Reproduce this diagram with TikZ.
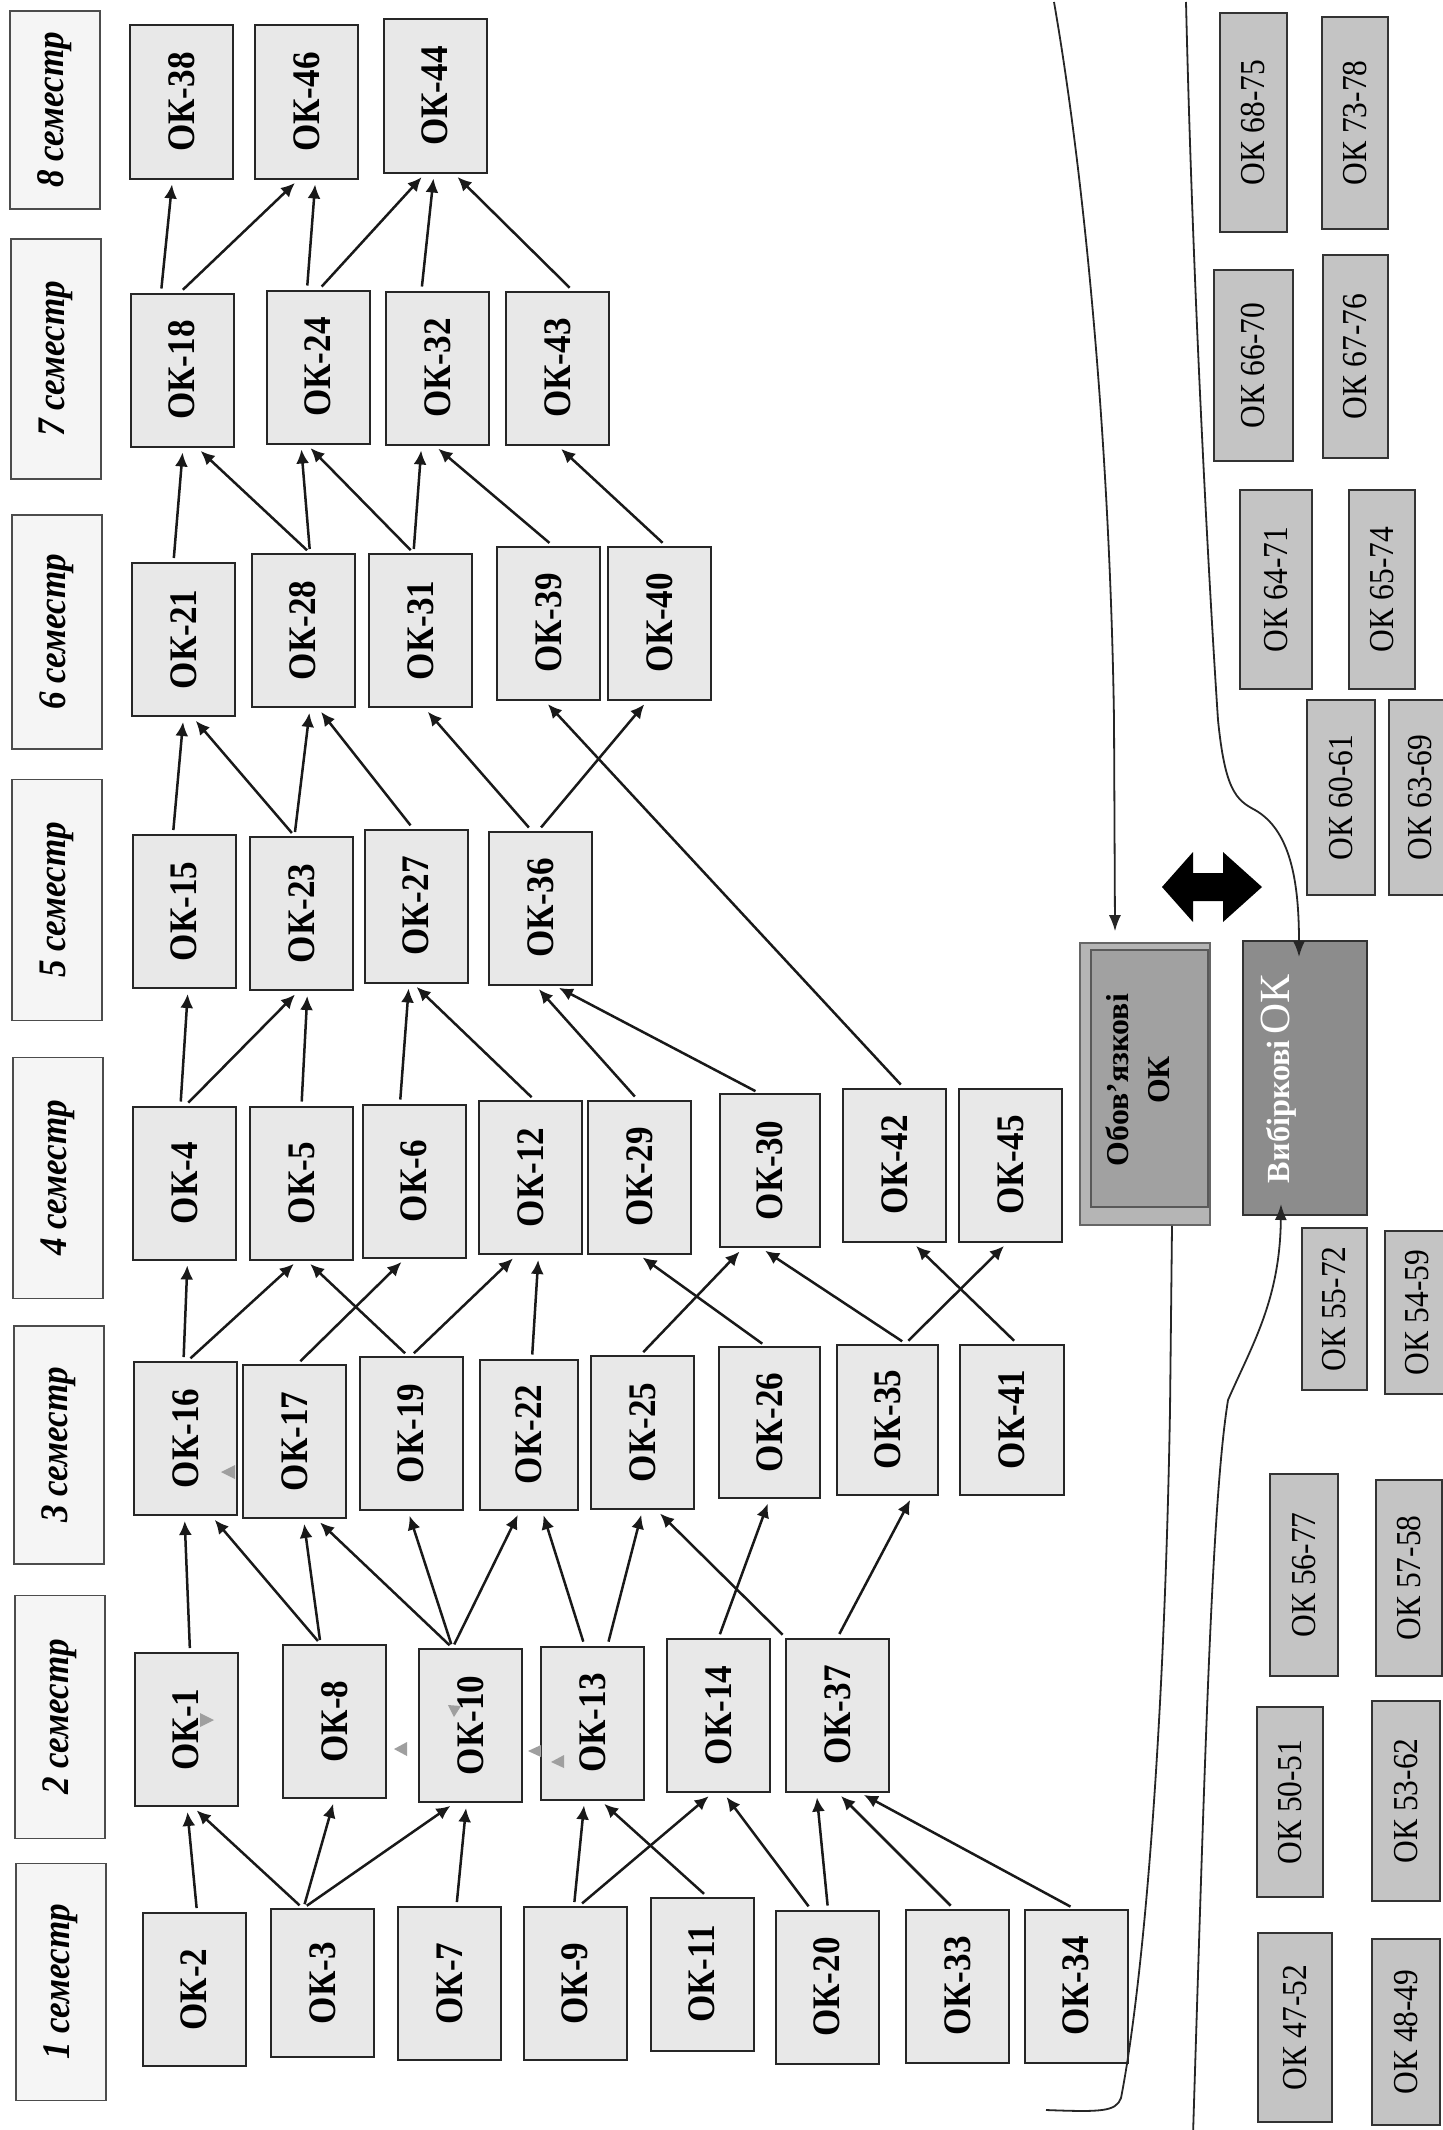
\documentclass[tikz,border=0pt]{standalone}
\usepackage{fontspec}
\setmainfont{Liberation Serif}
\usepackage{graphicx}
\usetikzlibrary{calc,arrows.meta}
\definecolor{boxfill}{gray}{0.91}
\definecolor{semfill}{gray}{0.96}
\definecolor{elfill}{gray}{0.77}
\definecolor{oboutfill}{gray}{0.71}
\definecolor{obinfill}{gray}{0.63}
\definecolor{vybfill}{gray}{0.55}
\newcommand\oklab[1]{\rotatebox{90}{\scalebox{0.9}[1]{\fontsize{19.5}{22}\selectfont\bfseries #1}}}
\newcommand\semlab[1]{\rotatebox{90}{\scalebox{0.9}[1]{\fontsize{19.5}{22}\selectfont\bfseries\itshape #1}}}
\newcommand\ellab[1]{\rotatebox{90}{\scalebox{0.9}[1]{\fontsize{17.5}{20}\selectfont #1}}}
\newcommand\okcon[4]{\draw[conn] ($(#1.north)+(#2,0)$) -- ($(#3.south)+(#4,0)$);}
\tikzset{
  sz/.style 2 args={minimum width=#1*0.5pt, minimum height=#2*0.5pt},
  okb/.style={draw=black!85, line width=1pt, fill=boxfill, inner sep=0pt, sz={103}{153}},
  sem/.style={draw=black!70, line width=0.8pt, fill=semfill, inner sep=0pt},
  elb/.style={draw=black!80, line width=0.8pt, fill=elfill, inner sep=0pt},
  conn/.style={line width=1.25pt, draw=black!90, -{Latex[length=7pt,width=6.5pt]}, shorten <=2pt, shorten >=2.5pt},
  curv/.style={line width=0.9pt, draw=black!85},
  art/.style={fill=gray!75},
}
\begin{document}
\begin{tikzpicture}[x=0.5pt,y=-0.5pt]
\fill[white] (0,0) rectangle (1443,2130);
\useasboundingbox (0,0) rectangle (1443,2130);

% semester labels
\node[sem, sz={90}{198}] (s8) at (55,110) {\semlab{8 семестр}};
\node[sem, sz={90}{240}] (s7) at (56,359) {\semlab{7 семестр}};
\node[sem, sz={90}{234}] (s6) at (57,632) {\semlab{6 семестр}};
\node[sem, sz={90}{241}] (s5) at (57,900) {\semlab{5 семестр}};
\node[sem, sz={90}{241}] (s4) at (58,1178) {\semlab{4 семестр}};
\node[sem, sz={90}{238}] (s3) at (59,1445) {\semlab{3 семестр}};
\node[sem, sz={90}{243}] (s2) at (60,1717) {\semlab{2 семестр}};
\node[sem, sz={90}{237}] (s1) at (61,1982) {\semlab{1 семестр}};

% semester 8
\node[okb] (ok38) at (181.5,102) {\oklab{ОК-38}};
\node[okb] (ok46) at (306.5,102) {\oklab{ОК-46}};
\node[okb] (ok44) at (435,96) {\oklab{ОК-44}};
% semester 7
\node[okb] (ok18) at (182,370) {\oklab{ОК-18}};
\node[okb] (ok24) at (318,367) {\oklab{ОК-24}};
\node[okb] (ok32) at (437.5,368) {\oklab{ОК-32}};
\node[okb] (ok43) at (557.5,368) {\oklab{ОК-43}};
% semester 6
\node[okb] (ok21) at (183.5,639.5) {\oklab{ОК-21}};
\node[okb] (ok28) at (303,630.5) {\oklab{ОК-28}};
\node[okb] (ok31) at (420.5,630.5) {\oklab{ОК-31}};
\node[okb] (ok39) at (548.5,623) {\oklab{ОК-39}};
\node[okb] (ok40) at (659.5,623) {\oklab{ОК-40}};
% semester 5
\node[okb] (ok15) at (184,911.5) {\oklab{ОК-15}};
\node[okb] (ok23) at (301.5,913.5) {\oklab{ОК-23}};
\node[okb] (ok27) at (416,906) {\oklab{ОК-27}};
\node[okb] (ok36) at (540.5,908) {\oklab{ОК-36}};
% semester 4
\node[okb] (ok4) at (184.5,1183) {\oklab{ОК-4}};
\node[okb] (ok5) at (301.5,1183) {\oklab{ОК-5}};
\node[okb] (ok6) at (414,1181) {\oklab{ОК-6}};
\node[okb] (ok12) at (530.5,1177.5) {\oklab{ОК-12}};
\node[okb] (ok29) at (639.5,1177) {\oklab{ОК-29}};
\node[okb, sz={100}{153}] (ok30) at (770,1170.5) {\oklab{ОК-30}};
\node[okb] (ok42) at (894.5,1165) {\oklab{ОК-42}};
\node[okb] (ok45) at (1010.5,1165) {\oklab{ОК-45}};
% semester 3
\node[okb] (ok16) at (185.5,1438.5) {\oklab{ОК-16}};
\node[okb] (ok17) at (294.5,1441.5) {\oklab{ОК-17}};
\node[okb] (ok19) at (411,1433.5) {\oklab{ОК-19}};
\node[okb, sz={98}{150}] (ok22) at (529,1434.5) {\oklab{ОК-22}};
\node[okb] (ok25) at (642.5,1432.5) {\oklab{ОК-25}};
\node[okb, sz={101}{151}] (ok26) at (769.5,1422.5) {\oklab{ОК-26}};
\node[okb, sz={101}{150}] (ok35) at (887.5,1419.5) {\oklab{ОК-35}};
\node[okb, sz={104}{150}] (ok41) at (1012,1419.5) {\oklab{ОК-41}};
% semester 2
\node[okb] (ok1) at (186,1729.5) {\oklab{ОК-1}};
\node[okb] (ok8) at (334.5,1721.5) {\oklab{ОК-8}};
\node[okb] (ok10) at (470.5,1725.5) {\oklab{ОК-10}};
\node[okb] (ok13) at (592.5,1723) {\oklab{ОК-13}};
\node[okb] (ok14) at (718.5,1715.5) {\oklab{ОК-14}};
\node[okb] (ok37) at (837.5,1715) {\oklab{ОК-37}};
% semester 1
\node[okb] (ok2) at (194,1989.5) {\oklab{ОК-2}};
\node[okb, sz={103}{148}] (ok3) at (322.5,1983) {\oklab{ОК-3}};
\node[okb] (ok7) at (449.5,1983.5) {\oklab{ОК-7}};
\node[okb] (ok9) at (575,1983.5) {\oklab{ОК-9}};
\node[okb] (ok11) at (702,1974) {\oklab{ОК-11}};
\node[okb] (ok20) at (827,1987) {\oklab{ОК-20}};
\node[okb] (ok33) at (957.5,1986) {\oklab{ОК-33}};
\node[okb] (ok34) at (1076,1986) {\oklab{ОК-34}};

% faint grey arrowheads
\fill[art] (200,1713) -- (214,1720) -- (200,1727) -- cycle;
\fill[art] (407,1742) -- (394,1749) -- (407,1756) -- cycle;
\fill[art] (448,1705) -- (461,1706) -- (454,1717) -- cycle;
\fill[art] (541,1745) -- (528,1751) -- (541,1757) -- cycle;
\fill[art] (564,1755) -- (551,1762) -- (564,1768) -- cycle;
\fill[art] (235,1465) -- (221,1472) -- (235,1479) -- cycle;

% 1 -> 2
\okcon{ok2}{3}{ok1}{1}
\okcon{ok3}{-20}{ok1}{7}
\okcon{ok3}{-19}{ok8}{0}
\okcon{ok3}{-19}{ok10}{-16}
\okcon{ok7}{7}{ok10}{-4}
\okcon{ok9}{-1}{ok13}{-8}
\okcon{ok9}{4}{ok14}{-6}
\okcon{ok11}{5}{ok13}{8}
\okcon{ok20}{-16}{ok14}{5}
\okcon{ok20}{1}{ok37}{-21}
\okcon{ok33}{-4}{ok37}{0}
\okcon{ok34}{-2}{ok37}{22}
% 2 -> 3
\okcon{ok1}{4}{ok16}{-1}
\okcon{ok8}{-14}{ok16}{26}
\okcon{ok8}{-14}{ok17}{9}
\okcon{ok10}{-18}{ok17}{22}
\okcon{ok10}{-18}{ok19}{-3}
\okcon{ok10}{-18}{ok22}{-9}
\okcon{ok13}{-8}{ok22}{13}
\okcon{ok13}{15}{ok25}{0}
\okcon{ok14}{0}{ok26}{0}
\okcon{ok37}{-52}{ok25}{14}
\okcon{ok37}{0}{ok35}{25}
% 3 -> 4
\okcon{ok16}{-2}{ok4}{3}
\okcon{ok16}{2}{ok5}{-4}
\okcon{ok17}{3}{ok6}{-9}
\okcon{ok19}{-3}{ok5}{5}
\okcon{ok19}{0}{ok12}{-14}
\okcon{ok22}{3}{ok12}{8}
\okcon{ok25}{-2}{ok30}{-27}
\okcon{ok26}{-4}{ok29}{-1}
\okcon{ok35}{18}{ok30}{-9}
\okcon{ok35}{18}{ok45}{-3}
\okcon{ok41}{5}{ok42}{18}
% 4 -> 5
\okcon{ok4}{-4}{ok15}{4}
\okcon{ok4}{1}{ok23}{-3}
\okcon{ok5}{0}{ok23}{6}
\okcon{ok6}{-14}{ok27}{-7}
\okcon{ok12}{4}{ok27}{-3}
\okcon{ok29}{-2}{ok36}{-5}
\okcon{ok30}{-11}{ok36}{14}
\okcon{ok42}{9}{ok39}{-4}
% 5 -> 6
\okcon{ok15}{-11}{ok21}{0}
\okcon{ok23}{-7}{ok21}{9}
\okcon{ok23}{-7}{ok28}{7}
\okcon{ok27}{-3}{ok28}{15}
\okcon{ok36}{-9}{ok31}{4}
\okcon{ok36}{-2}{ok40}{-12}
% 6 -> 7
\okcon{ok21}{-10}{ok18}{1}
\okcon{ok28}{7}{ok18}{15}
\okcon{ok28}{7}{ok24}{-17}
\okcon{ok31}{-7}{ok24}{-11}
\okcon{ok31}{-7}{ok32}{-16}
\okcon{ok39}{4}{ok32}{-3}
\okcon{ok40}{6}{ok43}{0}
% 7 -> 8
\okcon{ok18}{-21}{ok38}{-9}
\okcon{ok18}{-2}{ok46}{-8}
\okcon{ok24}{-11}{ok46}{9}
\okcon{ok24}{1}{ok44}{-10}
\okcon{ok32}{-16}{ok44}{-1}
\okcon{ok43}{15}{ok44}{19}

% elective boxes
\node[elb, sz={67}{219}] (e1) at (1253.5,122.5) {\ellab{ОК 68-75}};
\node[elb, sz={66}{212}] (e2) at (1355,123) {\ellab{ОК 73-78}};
\node[elb, sz={79}{191}] (e3) at (1253.5,365.5) {\ellab{ОК 66-70}};
\node[elb, sz={65}{203}] (e4) at (1355.5,356.5) {\ellab{ОК 67-76}};
\node[elb, sz={72}{199}] (e5) at (1276,589.5) {\ellab{ОК 64-71}};
\node[elb, sz={66}{199}] (e6) at (1382,589.5) {\ellab{ОК 65-74}};
\node[elb, sz={68}{195}] (e7) at (1341,797.5) {\ellab{ОК 60-61}};
\node[elb, sz={62}{195}] (e8) at (1420,797.5) {\ellab{ОК 63-69}};
\node[elb, sz={65}{162}] (e9) at (1334.5,1309) {\ellab{ОК 55-72}};
\node[elb, sz={64}{163}] (e10) at (1417,1312.5) {\ellab{ОК 54-59}};
\node[elb, sz={68}{202}] (e11) at (1304,1575) {\ellab{ОК 56-77}};
\node[elb, sz={66}{196}] (e12) at (1409,1578) {\ellab{ОК 57-58}};
\node[elb, sz={66}{190}] (e13) at (1290,1802) {\ellab{ОК 50-51}};
\node[elb, sz={68}{200}] (e14) at (1406,1801) {\ellab{ОК 53-62}};
\node[elb, sz={74}{189}] (e15) at (1295,2027.5) {\ellab{ОК 47-52}};
\node[elb, sz={68}{186}] (e16) at (1406,2032) {\ellab{ОК 48-49}};

% compulsory / elective blocks
\node[draw=gray!80!black, line width=0.8pt, fill=oboutfill, inner sep=0pt, sz={130}{282}] (obov) at (1145,1084) {};
\node[draw=black!65, line width=0.6pt, fill=obinfill, inner sep=0pt, sz={117}{257}] (obovin) at (1149.5,1078.5) {};
\node[inner sep=0pt] (obovt) at (1141,1080) {\rotatebox{90}{\resizebox{86pt}{!}{\fontsize{16}{20.5}\selectfont\bfseries\begin{tabular}{@{}c@{}}Обов’язкові\\ОК\end{tabular}}}};
\node[draw=black!80, line width=1pt, fill=vybfill, inner sep=0pt, sz={124}{274}] (vyb) at (1305,1078) {};
\node[inner sep=0pt, text=white] (vybt) at (1279,1079) {\rotatebox{90}{\resizebox{104pt}{!}{{\fontsize{15}{18}\selectfont\bfseries Вибіркові} {\fontsize{20}{22}\selectfont ОК}}}};

% double arrow
\fill[black] (1162,887) -- (1193,852) -- (1193,873) -- (1223,873) -- (1223,852) -- (1262,887) -- (1223,922) -- (1223,901) -- (1193,901) -- (1193,922) -- cycle;

% curved connectors
\coordinate (cA) at (1054,2);
\coordinate (cB) at (1186,2);
\coordinate (cC) at (1046,2110);
\coordinate (cD) at (1193,2135);
\draw[curv, -{Latex[length=8pt,width=6pt]}] (cA) .. controls (1085,180) and (1110,450) .. (1114,720) -- ($(obov.north)+(-30,-11)$);
\draw[curv, -{Latex[length=8pt,width=6pt]}] (cB) .. controls (1193,300) and (1210,600) .. (1218,720) .. controls (1225,790) and (1236,800) .. (1255,810) .. controls (1290,830) and (1299,880) .. ($(vyb.north)+(-6,17)$);
\draw[curv] ($(obov.south)+(27,0)$) -- (1170,1410) .. controls (1164,1750) and (1142,1990) .. (1121,2098) .. controls (1116,2112) and (1100,2112) .. (cC);
\draw[curv, -{Latex[length=8pt,width=6pt]}] (cD) .. controls (1205,1750) and (1212,1500) .. (1228,1400) .. controls (1252,1345) and (1280,1300) .. ($(vyb.south)+(-24,-12)$);
\end{tikzpicture}
\end{document}
